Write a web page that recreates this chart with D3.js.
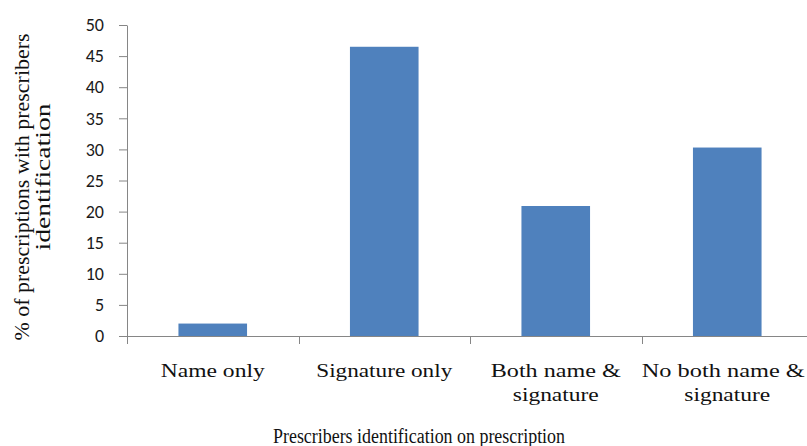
<!DOCTYPE html>
<html>
<head>
<meta charset="utf-8">
<script src="https://cdn.jsdelivr.net/npm/d3@7"></script>
<style>
html,body{margin:0;padding:0;background:#fff;}
svg{display:block;}
</style>
</head>
<body>
<svg id="chart" width="807" height="446"></svg>
<script>
const categories = [["Name only"], ["Signature only"], ["Both name &", "signature"], ["No both name &", "signature"]];
const values = [2, 46.5, 20.9, 30.3];
const yTicks = [0, 5, 10, 15, 20, 25, 30, 35, 40, 45, 50];
const yTitle = ["% of prescriptions with prescribers", "identification"];
const xTitle = "Prescribers identification on prescription";

// label widths as measured on the reference (text is horizontally stretched there)
const catLabelWidths = [[104], [136], [130, 86], [163, 86]];
const catLabelShift = [0, 0, 0, -4];

const svg = d3.select("#chart");
const x0 = 127, x1 = 813, yBase = 336, yTop = 25;
const x = d3.scaleBand().domain(d3.range(categories.length)).range([x0, x1]).paddingInner(0.6).paddingOuter(0.3);
const y = d3.scaleLinear().domain([0, 50]).range([yBase, yTop]);
const axisColor = "#868686";

// bars
svg.selectAll("rect.bar").data(values).enter().append("rect")
  .attr("class", "bar")
  .attr("x", (d, i) => x(i))
  .attr("width", x.bandwidth())
  .attr("y", d => y(d))
  .attr("height", d => y(0) - y(d))
  .attr("fill", "#4F81BD");

// y axis
const yAxis = d3.axisLeft(y).tickValues(yTicks).tickSize(8).tickSizeOuter(0).tickPadding(15);
const gy = svg.append("g").attr("transform", `translate(${x0},0)`).call(yAxis);
gy.select(".domain").attr("stroke", axisColor);
gy.selectAll(".tick line").attr("stroke", axisColor);
gy.selectAll(".tick text").attr("fill", "#1a1a1a")
  .style("font-family", "Carlito, 'Open Sans', 'DejaVu Sans', sans-serif").style("font-size", "18px");

// x axis
const xPos = d3.scaleLinear().domain([0, categories.length]).range([x0, x1]);
svg.append("line").attr("x1", x0).attr("x2", x1).attr("y1", yBase + 0.5).attr("y2", yBase + 0.5).attr("stroke", axisColor);
svg.selectAll("line.xt").data(d3.range(categories.length + 1)).enter().append("line")
  .attr("class", "xt")
  .attr("x1", d => Math.round(xPos(d)) + 0.5).attr("x2", d => Math.round(xPos(d)) + 0.5)
  .attr("y1", yBase).attr("y2", yBase + 8).attr("stroke", axisColor);

const serif = "'Liberation Serif', 'Times New Roman', serif";
categories.forEach((lines, i) => {
  const cx = x(i) + x.bandwidth() / 2;
  lines.forEach((l, j) => {
    svg.append("text")
      .attr("x", cx + (j === 0 ? catLabelShift[i] : 0))
      .attr("y", 377 + j * 24)
      .attr("text-anchor", "middle")
      .attr("textLength", catLabelWidths[i][j])
      .attr("lengthAdjust", "spacingAndGlyphs")
      .style("font-family", serif).style("font-size", "19px").attr("fill", "#111")
      .text(l);
  });
});

svg.append("text").attr("x", 419).attr("y", 443).attr("text-anchor", "middle")
  .attr("textLength", 292).attr("lengthAdjust", "spacingAndGlyphs")
  .style("font-family", serif).style("font-size", "20px").attr("fill", "#111").text(xTitle);

const yTitlePos = [[29, 187, 307], [50, 177, 147]];
yTitle.forEach((l, j) => {
  svg.append("text")
    .attr("transform", `translate(${yTitlePos[j][0]},${yTitlePos[j][1]}) rotate(-90)`)
    .attr("text-anchor", "middle")
    .attr("textLength", yTitlePos[j][2]).attr("lengthAdjust", "spacingAndGlyphs")
    .style("font-family", serif).style("font-size", "20px").attr("fill", "#111")
    .text(l);
});
</script>
</body>
</html>
